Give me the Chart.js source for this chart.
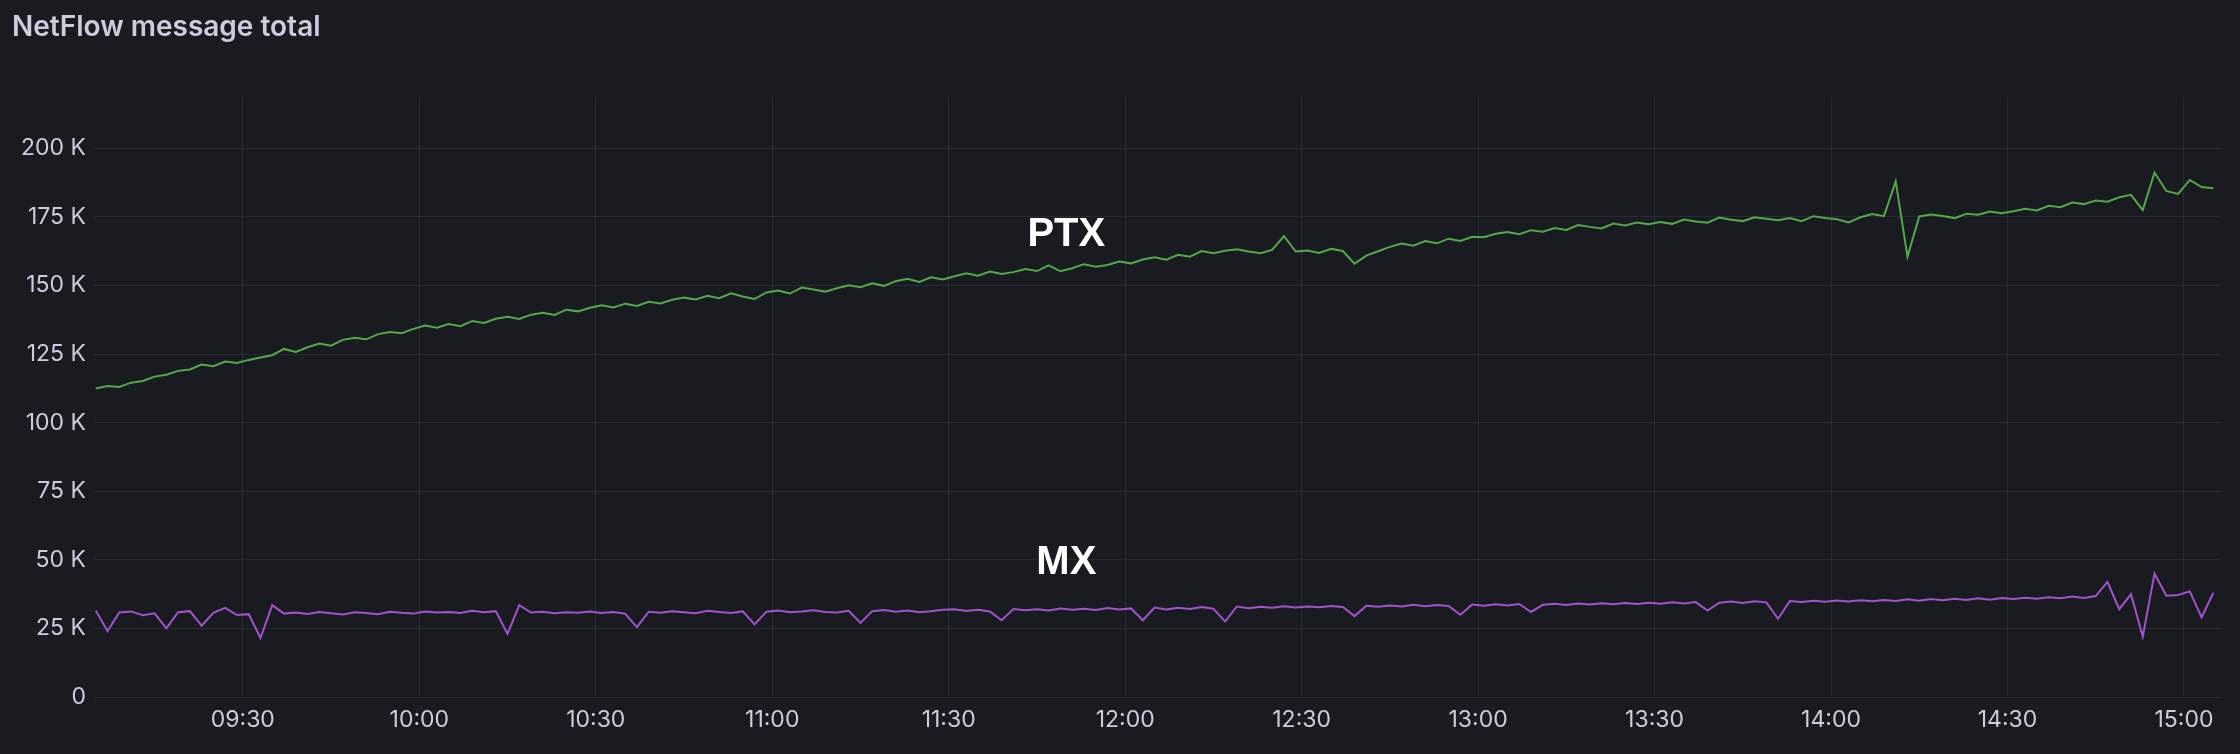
<!DOCTYPE html>
<html><head><meta charset="utf-8">
<script src="https://cdn.jsdelivr.net/npm/chart.js@4"></script>
<style>html,body{margin:0;background:#181b1f;}#w{width:2240px;height:754px;}</style>
</head><body><div id="w"><canvas id="c"></canvas></div>
<script>
const startMinute = 545, stepMinutes = 2;
const ptx = [112.5,113.4,113.0,114.6,115.2,116.8,117.5,118.9,119.4,121.2,120.6,122.3,121.8,
122.9,123.8,124.6,126.9,125.8,127.5,128.9,128.1,130.2,131.0,130.4,132.3,133.1,132.6,134.2,
135.4,134.6,136.0,135.2,137.1,136.4,137.9,138.6,137.8,139.4,140.1,139.3,141.2,140.6,141.9,
142.8,142.0,143.4,142.6,144.1,143.5,144.8,145.6,144.9,146.3,145.4,147.2,146.0,145.1,147.5,
148.2,147.1,149.3,148.6,147.8,149.0,150.1,149.4,150.8,149.9,151.6,152.5,151.3,153.0,152.2,
153.4,154.5,153.6,155.1,154.2,154.9,156.0,155.3,157.4,155.2,156.3,157.8,156.9,157.5,158.8,
158.1,159.5,160.3,159.4,161.2,160.5,162.6,161.8,162.7,163.2,162.4,161.8,163.0,168.0,162.4,
162.8,161.9,163.4,162.6,158.0,160.9,162.5,164.1,165.3,164.5,166.2,165.4,167.1,166.3,167.8,
167.6,168.9,169.5,168.7,170.2,169.6,171.0,170.3,172.1,171.4,170.8,172.6,171.9,173.0,172.4,
173.2,172.5,174.1,173.4,172.9,174.8,174.0,173.5,174.9,174.4,173.8,174.6,173.5,175.3,174.6,
174.2,173.0,174.9,176.1,175.3,188.0,160.5,175.2,175.9,175.4,174.6,176.2,175.8,177.0,176.4,
177.1,178.0,177.4,179.1,178.6,180.3,179.7,181.0,180.6,182.2,183.1,177.5,191.2,184.5,183.4,
188.5,185.9,185.5];
const mx = [31.5,24.0,30.8,31.2,29.8,30.5,25.0,30.9,31.3,26.0,30.7,32.5,29.9,
30.2,21.5,33.5,30.4,30.8,30.3,31.0,30.5,30.1,30.9,30.6,30.2,31.1,30.7,30.4,
31.2,30.8,31.0,30.6,31.4,30.9,31.3,23.0,33.5,30.8,31.1,30.5,30.9,30.7,31.2,
30.6,31.0,30.4,25.5,31.1,30.7,31.3,30.9,30.5,31.4,31.0,30.6,31.2,26.5,31.1,
31.5,30.9,31.2,31.6,31.0,30.8,31.4,27.0,31.3,31.7,31.1,31.5,30.9,31.3,31.8,
32.0,31.4,31.8,31.2,28.0,32.1,31.6,32.0,31.5,32.3,31.8,32.2,31.7,32.4,31.9,
32.3,28.0,32.6,31.9,32.5,32.1,32.8,32.2,27.5,33.0,32.4,32.9,32.5,33.1,32.6,
33.0,32.7,33.2,32.8,29.5,33.3,32.9,33.4,33.0,33.6,33.1,33.5,33.2,30.0,33.7,
33.3,33.8,33.4,33.9,31.0,33.6,34.0,33.5,34.1,33.7,34.2,33.8,34.3,33.9,34.4,
34.0,34.5,34.1,34.6,31.5,34.4,34.8,34.3,34.9,34.5,28.5,35.0,34.6,35.1,34.7,
35.2,34.8,35.3,34.9,35.4,35.0,35.6,35.1,35.7,35.3,35.8,35.4,36.0,35.5,36.1,
35.7,36.2,35.8,36.4,36.0,36.6,36.1,36.8,42.0,32.0,37.5,22.0,45.0,36.9,37.2,
38.5,29.0,38.0];
const seriesNames = ['PTX','MX'];
const labelAnchors = [{x:710,y:168500},{x:710,y:49000}];
const title = 'NetFlow message total';

const toPts = a => a.map((v,i)=>({x:startMinute+i*stepMinutes,y:v*1000}));
const txt = '#ccccdc', grid = 'rgba(204,204,220,0.09)';
const overlay = {id:'ov',afterDraw(ch){const c=ch.ctx;c.save();
 c.fillStyle=txt;c.font='600 28px Inter';c.textBaseline='top';c.textAlign='left';c.fillText(title,12,14);
 c.fillStyle='#ffffff';c.font='bold 40px "Liberation Sans", Arial';c.textAlign='center';c.textBaseline='middle';
 seriesNames.forEach((n,i)=>c.fillText(n,ch.scales.x.getPixelForValue(labelAnchors[i].x),ch.scales.y.getPixelForValue(labelAnchors[i].y)));
 c.restore();}};
new Chart(document.getElementById('c'),{type:'line',
 data:{datasets:[
  {label:'PTX',data:toPts(ptx),borderColor:'#56a64b',borderWidth:2,pointRadius:0,tension:0},
  {label:'MX',data:toPts(mx),borderColor:'#a352cc',borderWidth:2,pointRadius:0,tension:0}]},
 options:{responsive:true,maintainAspectRatio:false,animation:false,
  layout:{padding:{top:97,right:19,left:0,bottom:0}},
  plugins:{legend:{display:false},tooltip:{enabled:false}},
  scales:{
   x:{type:'linear',min:544.7,max:906.3,
    afterBuildTicks(s){s.ticks=[];for(let v=570;v<=900;v+=30)s.ticks.push({value:v});},
    afterFit(s){s.height=57;},
    ticks:{color:txt,font:{family:'Inter',size:23},maxRotation:0,padding:9,autoSkip:false,
     callback:v=>String(Math.floor(v/60)).padStart(2,'0')+':'+String(v%60).padStart(2,'0')},
    grid:{color:grid,drawTicks:false},border:{display:false}},
   y:{min:0,max:218750,
    afterBuildTicks(s){s.ticks=[];for(let v=0;v<=200000;v+=25000)s.ticks.push({value:v});},
    afterFit(s){s.width=94;},
    ticks:{color:txt,font:{family:'Inter',size:23},padding:8,callback:v=>v===0?'0':(v/1000)+' K'},
    grid:{color:grid,drawTicks:false},border:{display:false}}}},
 plugins:[overlay]});
</script></body></html>
